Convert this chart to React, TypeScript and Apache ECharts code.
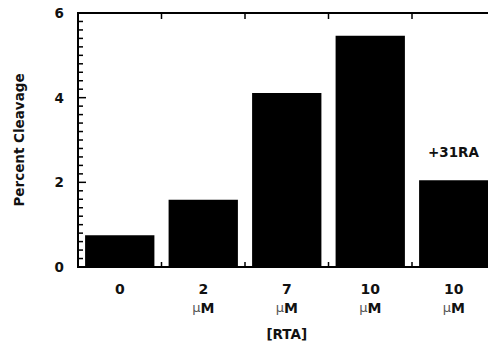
import React, { useEffect, useRef } from "react";
import * as echarts from "echarts";

const categories = ["0", "2\nµM", "7\nµM", "10\nµM", "10\nµM"];
const values = [0.75, 1.59, 4.11, 5.46, 2.05];
const annotation = "+31RA";
const yMin = 0;
const yMax = 6;
const yMajorStep = 2;
const yMinorStep = 0.2;

const FONT = "'DejaVu Sans', 'Liberation Sans', Arial, sans-serif";

function frameItem(params: any, api: any) {
  const c0 = api.coord([0, yMin]);
  const band = api.size([1, 0])[0];
  const left = c0[0] - band / 2;
  const right = left + categories.length * band;
  const yb = c0[1];
  const yt = api.coord([0, yMax])[1];
  const style = { fill: "#000" };
  const children: any[] = [];
  const rect = (x: number, y: number, w: number, h: number) =>
    children.push({ type: "rect", shape: { x, y, width: w, height: h }, style });
  // frame lines
  rect(left - 1, yb - 1, right - left + 2, 2);
  rect(left - 1, yt - 1, right - left + 2, 2);
  rect(left - 1, yt - 1, 2, yb - yt + 2);
  // category boundary ticks
  for (let k = 1; k < categories.length; k++) {
    const x = left + k * band;
    rect(x - 0.75, yb - 5, 1.5, 5);
    rect(x - 0.75, yt, 1.5, 6);
  }
  // y ticks
  const nMinor = Math.round((yMax - yMin) / yMinorStep);
  for (let i = 0; i <= nMinor; i++) {
    const v = yMin + i * yMinorStep;
    const y = api.coord([0, v])[1];
    const major = Math.abs(v / yMajorStep - Math.round(v / yMajorStep)) < 1e-6;
    rect(left, y - 0.75, major ? 8 : 5, 1.5);
  }
  return { type: "group", children };
}

export default function App() {
  const ref = useRef<HTMLDivElement>(null);
  useEffect(() => {
    document.body.style.margin = "0";
    const chart = echarts.init(ref.current!, null, { renderer: "svg" });
    chart.setOption({
      animation: false,
      grid: { left: 78, top: 13, width: 417.5, height: 254, containLabel: false, outerBoundsMode: "none" },
      xAxis: {
        type: "category",
        data: categories,
        position: "bottom",
        name: "[RTA]",
        nameLocation: "middle",
        nameGap: 60,
        nameTextStyle: { fontFamily: FONT, fontWeight: "bold", fontSize: 13.5, color: "#111" },
        axisLine: { show: false },
        axisTick: { show: false },
        axisLabel: {
          margin: 12,
          lineHeight: 19,
          formatter: (v: string) => {
            const parts = v.split("\n");
            if (parts.length === 1) return `{b|${parts[0]}}`;
            return `{b|${parts[0]}}\n{u|µ}{b|M}`;
          },
          rich: {
            b: { fontFamily: FONT, fontWeight: "bold", fontSize: 14, color: "#111", lineHeight: 19 },
            u: { fontFamily: FONT, fontWeight: "normal", fontSize: 13, color: "#555", lineHeight: 19 },
          },
        },
      },
      yAxis: {
        type: "value",
        min: yMin,
        max: yMax,
        interval: yMajorStep,
        name: "Percent Cleavage",
        nameLocation: "middle",
        nameGap: 52,
        nameTextStyle: { fontFamily: FONT, fontWeight: "bold", fontSize: 13.5, color: "#111" },
        axisLine: { show: false },
        axisTick: { show: false },
        splitLine: { show: false },
        axisLabel: {
          margin: 14,
          fontFamily: FONT,
          fontWeight: "bold",
          fontSize: 13.5,
          color: "#111",
        },
      },
      series: [
        {
          type: "bar",
          data: values,
          barCategoryGap: "17%",
          itemStyle: { color: "#000" },
        },
        {
          type: "custom",
          data: [[0, 0]],
          clip: false,
          silent: true,
          z: 5,
          renderItem: frameItem,
        },
      ],
      graphic: [
        {
          type: "text",
          left: 428,
          top: 145,
          style: { text: annotation, fontFamily: FONT, fontWeight: "bold", fontSize: 13.5, fill: "#111" },
        },
      ],
    });
    return () => chart.dispose();
  }, []);
  return <div ref={ref} style={{ width: 488, height: 343 }} />;
}
